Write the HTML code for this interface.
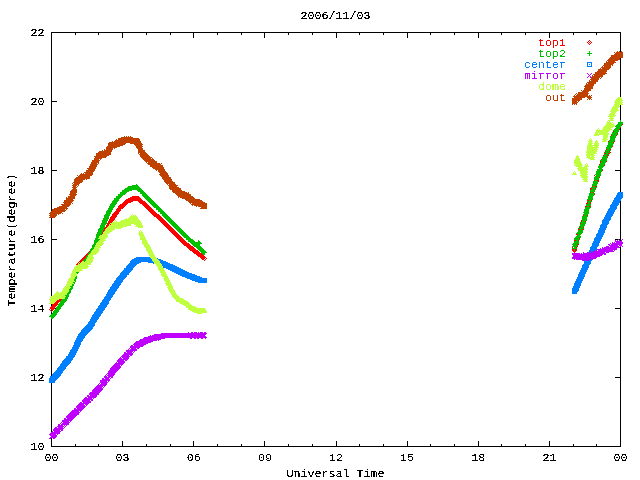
<!DOCTYPE html>
<html lang="en">
<head>
<meta charset="utf-8">
<title>2006/11/03 Temperature</title>
<style>
html,body{margin:0;padding:0;background:#fff;}
body{width:640px;height:480px;position:relative;overflow:hidden;font-family:"Liberation Mono",monospace;}
#plot{position:absolute;left:0;top:0;width:640px;height:480px;}
svg{position:absolute;left:0;top:0;shape-rendering:crispEdges;}
#labels{position:absolute;left:0;top:0;width:640px;height:480px;will-change:transform;filter:url(#crisp);}
.t{position:absolute;font-family:"Liberation Mono",monospace;font-size:11.67px;line-height:7px;height:7px;letter-spacing:0;white-space:pre;text-align:left;margin:0;padding:0;}
.t.yl{width:133px;height:7px;margin-left:0;transform-origin:0 0;transform:translate(0px,66.5px) rotate(-90deg);}
</style>
</head>
<body>
<div id="plot">
<svg width="640" height="480" viewBox="0 0 640 480">
<defs><filter id="crisp" x="0" y="0" width="100%" height="100%" color-interpolation-filters="sRGB"><feComponentTransfer><feFuncA type="discrete" tableValues="0 0 0 0 0 0 0 0 0 1 1 1 1 1 1 1 1 1 1 1"/></feComponentTransfer></filter></defs>
<path fill="#000" d="M51 32h570v1h-570zM51 446h570v1h-570zM51 32h1v415h-1zM620 32h1v415h-1zM51 32h1v6h-1zM51 441h1v6h-1zM75 32h1v3h-1zM75 444h1v3h-1zM98 32h1v3h-1zM98 444h1v3h-1zM122 32h1v6h-1zM122 441h1v6h-1zM146 32h1v3h-1zM146 444h1v3h-1zM170 32h1v3h-1zM170 444h1v3h-1zM193 32h1v6h-1zM193 441h1v6h-1zM217 32h1v3h-1zM217 444h1v3h-1zM241 32h1v3h-1zM241 444h1v3h-1zM264 32h1v6h-1zM264 441h1v6h-1zM288 32h1v3h-1zM288 444h1v3h-1zM312 32h1v3h-1zM312 444h1v3h-1zM336 32h1v6h-1zM336 441h1v6h-1zM359 32h1v3h-1zM359 444h1v3h-1zM383 32h1v3h-1zM383 444h1v3h-1zM407 32h1v6h-1zM407 441h1v6h-1zM430 32h1v3h-1zM430 444h1v3h-1zM454 32h1v3h-1zM454 444h1v3h-1zM478 32h1v6h-1zM478 441h1v6h-1zM501 32h1v3h-1zM501 444h1v3h-1zM525 32h1v3h-1zM525 444h1v3h-1zM549 32h1v6h-1zM549 441h1v6h-1zM573 32h1v3h-1zM573 444h1v3h-1zM596 32h1v3h-1zM596 444h1v3h-1zM620 32h1v6h-1zM620 441h1v6h-1zM51 446h6v1h-6zM615 446h6v1h-6zM51 377h6v1h-6zM615 377h6v1h-6zM51 308h6v1h-6zM615 308h6v1h-6zM51 239h6v1h-6zM615 239h6v1h-6zM51 170h6v1h-6zM615 170h6v1h-6zM51 101h6v1h-6zM615 101h6v1h-6zM51 32h6v1h-6zM615 32h6v1h-6z"/>
<path fill="#ff0000" d="M589 40h1v1h-1zM588 41h1v1h-1zM590 41h1v1h-1zM587 42h1v1h-1zM589 42h1v1h-1zM591 42h1v1h-1zM588 43h1v1h-1zM590 43h1v1h-1zM589 44h1v1h-1zM620 121h1v1h-1zM619 122h3v1h-3zM618 123h5v1h-5zM617 124h6v1h-6zM616 125h6v1h-6zM615 126h6v1h-6zM616 127h5v1h-5zM615 128h5v1h-5zM614 129h6v1h-6zM614 130h5v1h-5zM613 131h5v1h-5zM612 132h6v1h-6zM612 133h6v1h-6zM612 134h5v1h-5zM611 135h6v1h-6zM610 136h6v1h-6zM611 137h4v1h-4zM610 138h5v1h-5zM610 139h4v1h-4zM609 140h6v1h-6zM608 141h7v1h-7zM608 142h6v1h-6zM608 143h5v1h-5zM609 144h3v1h-3zM608 145h4v1h-4zM607 146h6v1h-6zM606 147h6v1h-6zM606 148h5v1h-5zM606 149h5v1h-5zM606 150h4v1h-4zM605 151h5v1h-5zM605 152h6v1h-6zM604 153h6v1h-6zM604 154h5v1h-5zM603 155h6v1h-6zM603 156h5v1h-5zM602 157h6v1h-6zM602 158h5v1h-5zM601 159h5v1h-5zM601 160h5v1h-5zM600 161h7v1h-7zM600 162h6v1h-6zM600 163h5v1h-5zM599 164h1v1h-1zM601 164h3v1h-3zM600 165h1v1h-1zM602 165h1v1h-1zM604 165h1v1h-1zM599 166h1v1h-1zM601 166h1v1h-1zM603 166h1v1h-1zM598 167h1v1h-1zM600 167h1v1h-1zM602 167h1v1h-1zM599 168h3v1h-3zM598 169h5v1h-5zM598 170h5v1h-5zM597 171h1v1h-1zM599 171h3v1h-3zM596 172h3v1h-3zM600 172h1v1h-1zM596 173h4v1h-4zM595 174h6v1h-6zM594 175h1v1h-1zM596 175h5v1h-5zM595 176h5v1h-5zM595 177h5v1h-5zM595 178h4v1h-4zM594 179h5v1h-5zM594 180h5v1h-5zM594 181h5v1h-5zM593 182h5v1h-5zM593 183h5v1h-5zM592 184h5v1h-5zM592 185h5v1h-5zM592 186h5v1h-5zM591 187h6v1h-6zM590 188h6v1h-6zM590 189h5v1h-5zM590 190h5v1h-5zM591 191h3v1h-3zM590 192h4v1h-4zM589 193h6v1h-6zM589 194h6v1h-6zM589 195h5v1h-5zM132 196h7v1h-7zM588 196h5v1h-5zM130 197h10v1h-10zM588 197h5v1h-5zM128 198h13v1h-13zM588 198h4v1h-4zM126 199h16v1h-16zM587 199h6v1h-6zM125 200h18v1h-18zM587 200h5v1h-5zM124 201h9v1h-9zM138 201h7v1h-7zM587 201h5v1h-5zM123 202h8v1h-8zM139 202h7v1h-7zM587 202h4v1h-4zM122 203h6v1h-6zM140 203h7v1h-7zM586 203h5v1h-5zM120 204h7v1h-7zM142 204h6v1h-6zM586 204h5v1h-5zM119 205h7v1h-7zM143 205h6v1h-6zM586 205h4v1h-4zM118 206h7v1h-7zM144 206h6v1h-6zM585 206h6v1h-6zM118 207h6v1h-6zM145 207h6v1h-6zM586 207h5v1h-5zM117 208h6v1h-6zM146 208h6v1h-6zM585 208h5v1h-5zM116 209h5v1h-5zM147 209h6v1h-6zM584 209h5v1h-5zM116 210h5v1h-5zM148 210h6v1h-6zM584 210h5v1h-5zM115 211h5v1h-5zM149 211h6v1h-6zM584 211h5v1h-5zM114 212h5v1h-5zM150 212h6v1h-6zM584 212h5v1h-5zM113 213h6v1h-6zM151 213h6v1h-6zM584 213h4v1h-4zM112 214h6v1h-6zM152 214h7v1h-7zM583 214h5v1h-5zM112 215h5v1h-5zM153 215h7v1h-7zM583 215h5v1h-5zM111 216h6v1h-6zM154 216h7v1h-7zM583 216h4v1h-4zM110 217h6v1h-6zM156 217h6v1h-6zM582 217h1v1h-1zM584 217h3v1h-3zM110 218h5v1h-5zM157 218h6v1h-6zM583 218h3v1h-3zM109 219h6v1h-6zM158 219h6v1h-6zM582 219h5v1h-5zM109 220h5v1h-5zM159 220h6v1h-6zM581 220h6v1h-6zM108 221h5v1h-5zM160 221h6v1h-6zM581 221h5v1h-5zM108 222h5v1h-5zM161 222h6v1h-6zM581 222h5v1h-5zM107 223h6v1h-6zM162 223h6v1h-6zM580 223h5v1h-5zM107 224h5v1h-5zM163 224h6v1h-6zM580 224h5v1h-5zM106 225h5v1h-5zM164 225h6v1h-6zM580 225h5v1h-5zM106 226h5v1h-5zM165 226h6v1h-6zM580 226h4v1h-4zM105 227h6v1h-6zM166 227h6v1h-6zM579 227h5v1h-5zM104 228h6v1h-6zM167 228h6v1h-6zM578 228h5v1h-5zM104 229h5v1h-5zM168 229h6v1h-6zM578 229h6v1h-6zM103 230h6v1h-6zM169 230h6v1h-6zM578 230h5v1h-5zM102 231h6v1h-6zM170 231h6v1h-6zM578 231h4v1h-4zM101 232h6v1h-6zM171 232h6v1h-6zM577 232h6v1h-6zM100 233h6v1h-6zM172 233h6v1h-6zM576 233h6v1h-6zM100 234h5v1h-5zM173 234h6v1h-6zM576 234h5v1h-5zM99 235h5v1h-5zM174 235h6v1h-6zM577 235h3v1h-3zM98 236h5v1h-5zM175 236h6v1h-6zM576 236h4v1h-4zM98 237h5v1h-5zM176 237h6v1h-6zM575 237h6v1h-6zM97 238h6v1h-6zM177 238h6v1h-6zM575 238h5v1h-5zM97 239h5v1h-5zM178 239h6v1h-6zM575 239h5v1h-5zM96 240h6v1h-6zM179 240h6v1h-6zM574 240h5v1h-5zM96 241h5v1h-5zM180 241h6v1h-6zM574 241h5v1h-5zM95 242h6v1h-6zM181 242h6v1h-6zM575 242h3v1h-3zM94 243h6v1h-6zM182 243h7v1h-7zM574 243h5v1h-5zM94 244h5v1h-5zM183 244h7v1h-7zM573 244h6v1h-6zM93 245h6v1h-6zM184 245h7v1h-7zM574 245h4v1h-4zM92 246h6v1h-6zM186 246h7v1h-7zM573 246h1v1h-1zM575 246h3v1h-3zM92 247h5v1h-5zM187 247h7v1h-7zM572 247h1v1h-1zM574 247h1v1h-1zM576 247h1v1h-1zM91 248h6v1h-6zM188 248h7v1h-7zM573 248h3v1h-3zM90 249h6v1h-6zM189 249h7v1h-7zM572 249h5v1h-5zM90 250h5v1h-5zM190 250h8v1h-8zM572 250h5v1h-5zM89 251h6v1h-6zM192 251h7v1h-7zM573 251h3v1h-3zM88 252h6v1h-6zM193 252h7v1h-7zM574 252h1v1h-1zM87 253h6v1h-6zM194 253h8v1h-8zM86 254h6v1h-6zM196 254h7v1h-7zM85 255h6v1h-6zM197 255h7v1h-7zM84 256h6v1h-6zM198 256h7v1h-7zM83 257h6v1h-6zM200 257h6v1h-6zM82 258h6v1h-6zM201 258h4v1h-4zM206 258h1v1h-1zM81 259h6v1h-6zM202 259h2v1h-2zM205 259h1v1h-1zM80 260h7v1h-7zM204 260h1v1h-1zM79 261h7v1h-7zM78 262h7v1h-7zM77 263h6v1h-6zM76 264h6v1h-6zM76 265h5v1h-5zM75 266h5v1h-5zM74 267h6v1h-6zM74 268h5v1h-5zM74 269h5v1h-5zM73 270h6v1h-6zM73 271h5v1h-5zM72 272h5v1h-5zM72 273h5v1h-5zM72 274h5v1h-5zM71 275h5v1h-5zM71 276h5v1h-5zM70 277h5v1h-5zM70 278h5v1h-5zM70 279h5v1h-5zM69 280h6v1h-6zM69 281h5v1h-5zM68 282h6v1h-6zM68 283h5v1h-5zM68 284h5v1h-5zM68 285h5v1h-5zM67 286h5v1h-5zM66 287h5v1h-5zM65 288h6v1h-6zM64 289h6v1h-6zM64 290h5v1h-5zM63 291h6v1h-6zM62 292h6v1h-6zM61 293h6v1h-6zM60 294h6v1h-6zM60 295h5v1h-5zM59 296h5v1h-5zM58 297h5v1h-5zM57 298h6v1h-6zM56 299h6v1h-6zM55 300h6v1h-6zM54 301h6v1h-6zM54 302h5v1h-5zM53 303h5v1h-5zM52 304h6v1h-6zM52 305h5v1h-5zM51 306h5v1h-5zM50 307h5v1h-5zM50 308h5v1h-5zM49 309h1v1h-1zM51 309h3v1h-3zM50 310h1v1h-1zM52 310h1v1h-1zM51 311h1v1h-1z"/>
<path fill="#00c000" d="M589 51h1v1h-1zM589 52h1v1h-1zM587 53h5v1h-5zM589 54h1v1h-1zM589 55h1v1h-1zM620 120h1v1h-1zM620 121h1v1h-1zM618 122h5v1h-5zM618 123h5v1h-5zM617 124h5v1h-5zM616 125h6v1h-6zM615 126h6v1h-6zM616 127h4v1h-4zM615 128h5v1h-5zM614 129h5v1h-5zM613 130h6v1h-6zM614 131h5v1h-5zM612 132h6v1h-6zM612 133h5v1h-5zM611 134h7v1h-7zM612 135h4v1h-4zM610 136h6v1h-6zM610 137h6v1h-6zM610 138h5v1h-5zM610 139h5v1h-5zM609 140h6v1h-6zM609 141h5v1h-5zM608 142h5v1h-5zM608 143h6v1h-6zM608 144h5v1h-5zM607 145h6v1h-6zM607 146h5v1h-5zM606 147h6v1h-6zM606 148h5v1h-5zM607 149h3v1h-3zM605 150h6v1h-6zM606 151h3v1h-3zM604 152h6v1h-6zM606 153h2v1h-2zM604 154h5v1h-5zM604 155h3v1h-3zM603 156h5v1h-5zM602 157h5v1h-5zM602 158h5v1h-5zM602 159h5v1h-5zM600 160h7v1h-7zM601 161h5v1h-5zM601 162h5v1h-5zM600 163h5v1h-5zM600 164h5v1h-5zM599 165h5v1h-5zM598 166h6v1h-6zM598 167h5v1h-5zM599 168h3v1h-3zM597 169h6v1h-6zM597 170h5v1h-5zM596 171h6v1h-6zM596 172h5v1h-5zM596 173h5v1h-5zM595 174h6v1h-6zM596 175h5v1h-5zM595 176h5v1h-5zM594 177h5v1h-5zM594 178h5v1h-5zM594 179h5v1h-5zM595 180h2v1h-2zM593 181h5v1h-5zM593 182h5v1h-5zM593 183h5v1h-5zM136 184h1v1h-1zM592 184h5v1h-5zM132 185h6v1h-6zM592 185h5v1h-5zM128 186h11v1h-11zM593 186h2v1h-2zM127 187h13v1h-13zM591 187h6v1h-6zM125 188h16v1h-16zM592 188h3v1h-3zM124 189h18v1h-18zM591 189h5v1h-5zM122 190h10v1h-10zM137 190h6v1h-6zM590 190h5v1h-5zM122 191h7v1h-7zM138 191h6v1h-6zM590 191h5v1h-5zM120 192h7v1h-7zM140 192h5v1h-5zM591 192h2v1h-2zM120 193h6v1h-6zM140 193h6v1h-6zM589 193h6v1h-6zM118 194h7v1h-7zM142 194h5v1h-5zM589 194h5v1h-5zM118 195h5v1h-5zM142 195h6v1h-6zM589 195h5v1h-5zM116 196h6v1h-6zM143 196h6v1h-6zM588 196h5v1h-5zM116 197h5v1h-5zM144 197h6v1h-6zM588 197h5v1h-5zM114 198h6v1h-6zM145 198h6v1h-6zM588 198h5v1h-5zM114 199h5v1h-5zM146 199h6v1h-6zM587 199h6v1h-6zM113 200h6v1h-6zM147 200h6v1h-6zM589 200h2v1h-2zM112 201h6v1h-6zM148 201h6v1h-6zM587 201h5v1h-5zM112 202h5v1h-5zM149 202h6v1h-6zM588 202h2v1h-2zM111 203h6v1h-6zM150 203h6v1h-6zM588 203h2v1h-2zM110 204h6v1h-6zM151 204h6v1h-6zM586 204h5v1h-5zM110 205h5v1h-5zM152 205h6v1h-6zM586 205h5v1h-5zM109 206h6v1h-6zM153 206h6v1h-6zM587 206h2v1h-2zM109 207h5v1h-5zM154 207h6v1h-6zM585 207h6v1h-6zM108 208h5v1h-5zM156 208h5v1h-5zM585 208h5v1h-5zM108 209h5v1h-5zM156 209h6v1h-6zM584 209h5v1h-5zM107 210h5v1h-5zM158 210h5v1h-5zM584 210h5v1h-5zM106 211h6v1h-6zM158 211h6v1h-6zM584 211h5v1h-5zM106 212h5v1h-5zM160 212h5v1h-5zM583 212h6v1h-6zM106 213h5v1h-5zM160 213h6v1h-6zM584 213h5v1h-5zM105 214h5v1h-5zM162 214h5v1h-5zM583 214h5v1h-5zM104 215h6v1h-6zM162 215h6v1h-6zM584 215h3v1h-3zM104 216h5v1h-5zM163 216h6v1h-6zM582 216h6v1h-6zM104 217h5v1h-5zM164 217h6v1h-6zM582 217h5v1h-5zM103 218h6v1h-6zM165 218h6v1h-6zM582 218h5v1h-5zM103 219h5v1h-5zM166 219h6v1h-6zM582 219h5v1h-5zM102 220h6v1h-6zM167 220h6v1h-6zM582 220h5v1h-5zM102 221h5v1h-5zM168 221h6v1h-6zM582 221h3v1h-3zM102 222h5v1h-5zM169 222h6v1h-6zM580 222h6v1h-6zM101 223h6v1h-6zM170 223h6v1h-6zM581 223h5v1h-5zM101 224h5v1h-5zM171 224h6v1h-6zM580 224h5v1h-5zM100 225h5v1h-5zM172 225h6v1h-6zM580 225h5v1h-5zM100 226h5v1h-5zM173 226h6v1h-6zM579 226h5v1h-5zM100 227h5v1h-5zM174 227h6v1h-6zM580 227h3v1h-3zM99 228h5v1h-5zM175 228h6v1h-6zM578 228h6v1h-6zM98 229h6v1h-6zM176 229h6v1h-6zM580 229h2v1h-2zM98 230h5v1h-5zM177 230h6v1h-6zM578 230h5v1h-5zM98 231h5v1h-5zM178 231h6v1h-6zM578 231h5v1h-5zM97 232h5v1h-5zM179 232h6v1h-6zM577 232h6v1h-6zM97 233h5v1h-5zM180 233h6v1h-6zM576 233h6v1h-6zM96 234h5v1h-5zM181 234h6v1h-6zM578 234h3v1h-3zM96 235h5v1h-5zM182 235h6v1h-6zM577 235h3v1h-3zM96 236h5v1h-5zM183 236h6v1h-6zM576 236h5v1h-5zM96 237h5v1h-5zM184 237h6v1h-6zM575 237h6v1h-6zM95 238h5v1h-5zM186 238h5v1h-5zM574 238h5v1h-5zM95 239h5v1h-5zM186 239h7v1h-7zM574 239h6v1h-6zM94 240h6v1h-6zM188 240h6v1h-6zM198 240h1v1h-1zM576 240h2v1h-2zM94 241h5v1h-5zM188 241h7v1h-7zM198 241h2v1h-2zM574 241h5v1h-5zM94 242h5v1h-5zM190 242h11v1h-11zM574 242h5v1h-5zM94 243h5v1h-5zM191 243h11v1h-11zM573 243h6v1h-6zM93 244h5v1h-5zM192 244h8v1h-8zM572 244h5v1h-5zM92 245h5v1h-5zM193 245h7v1h-7zM573 245h5v1h-5zM92 246h5v1h-5zM194 246h7v1h-7zM572 246h5v1h-5zM92 247h5v1h-5zM196 247h6v1h-6zM574 247h2v1h-2zM91 248h5v1h-5zM197 248h6v1h-6zM572 248h5v1h-5zM90 249h5v1h-5zM198 249h6v1h-6zM574 249h1v1h-1zM90 250h5v1h-5zM199 250h6v1h-6zM574 250h1v1h-1zM90 251h5v1h-5zM200 251h6v1h-6zM89 252h5v1h-5zM201 252h6v1h-6zM88 253h5v1h-5zM202 253h3v1h-3zM88 254h5v1h-5zM203 254h2v1h-2zM87 255h6v1h-6zM86 256h6v1h-6zM86 257h5v1h-5zM85 258h6v1h-6zM84 259h5v1h-5zM83 260h6v1h-6zM82 261h6v1h-6zM81 262h6v1h-6zM80 263h6v1h-6zM80 264h5v1h-5zM78 265h6v1h-6zM78 266h5v1h-5zM77 267h5v1h-5zM76 268h5v1h-5zM75 269h6v1h-6zM74 270h6v1h-6zM74 271h5v1h-5zM73 272h6v1h-6zM73 273h5v1h-5zM72 274h5v1h-5zM72 275h5v1h-5zM72 276h5v1h-5zM72 277h5v1h-5zM72 278h5v1h-5zM71 279h5v1h-5zM71 280h5v1h-5zM70 281h6v1h-6zM70 282h5v1h-5zM70 283h5v1h-5zM69 284h5v1h-5zM68 285h6v1h-6zM68 286h5v1h-5zM68 287h5v1h-5zM67 288h6v1h-6zM67 289h5v1h-5zM66 290h5v1h-5zM66 291h5v1h-5zM65 292h6v1h-6zM65 293h5v1h-5zM64 294h5v1h-5zM64 295h5v1h-5zM64 296h5v1h-5zM63 297h5v1h-5zM62 298h6v1h-6zM62 299h5v1h-5zM61 300h6v1h-6zM60 301h6v1h-6zM60 302h5v1h-5zM59 303h5v1h-5zM58 304h6v1h-6zM58 305h5v1h-5zM57 306h5v1h-5zM56 307h5v1h-5zM56 308h5v1h-5zM55 309h5v1h-5zM54 310h5v1h-5zM53 311h6v1h-6zM53 312h5v1h-5zM52 313h5v1h-5zM51 314h6v1h-6zM50 315h6v1h-6zM49 316h6v1h-6zM51 317h3v1h-3zM51 318h2v1h-2z"/>
<path fill="#0080ff" d="M587 62h5v1h-5zM587 63h1v1h-1zM591 63h1v1h-1zM587 64h1v1h-1zM589 64h1v1h-1zM591 64h1v1h-1zM587 65h1v1h-1zM591 65h1v1h-1zM587 66h5v1h-5zM618 192h5v1h-5zM617 193h6v1h-6zM617 194h6v1h-6zM616 195h7v1h-7zM616 196h7v1h-7zM615 197h8v1h-8zM614 198h8v1h-8zM614 199h7v1h-7zM613 200h8v1h-8zM613 201h7v1h-7zM612 202h8v1h-8zM612 203h7v1h-7zM611 204h8v1h-8zM610 205h8v1h-8zM610 206h7v1h-7zM610 207h7v1h-7zM609 208h8v1h-8zM608 209h8v1h-8zM608 210h7v1h-7zM607 211h8v1h-8zM607 212h7v1h-7zM606 213h8v1h-8zM606 214h7v1h-7zM605 215h8v1h-8zM605 216h7v1h-7zM604 217h7v1h-7zM604 218h7v1h-7zM603 219h8v1h-8zM602 220h8v1h-8zM602 221h7v1h-7zM602 222h7v1h-7zM602 223h7v1h-7zM601 224h7v1h-7zM600 225h7v1h-7zM600 226h7v1h-7zM600 227h7v1h-7zM599 228h7v1h-7zM599 229h7v1h-7zM598 230h7v1h-7zM598 231h7v1h-7zM598 232h7v1h-7zM597 233h7v1h-7zM596 234h8v1h-8zM596 235h7v1h-7zM596 236h7v1h-7zM595 237h7v1h-7zM594 238h8v1h-8zM594 239h7v1h-7zM594 240h7v1h-7zM593 241h7v1h-7zM593 242h7v1h-7zM592 243h7v1h-7zM592 244h7v1h-7zM592 245h7v1h-7zM591 246h7v1h-7zM590 247h7v1h-7zM590 248h7v1h-7zM590 249h7v1h-7zM589 250h7v1h-7zM589 251h7v1h-7zM588 252h7v1h-7zM588 253h7v1h-7zM588 254h7v1h-7zM587 255h7v1h-7zM586 256h7v1h-7zM136 257h17v1h-17zM586 257h7v1h-7zM134 258h24v1h-24zM586 258h7v1h-7zM132 259h29v1h-29zM585 259h7v1h-7zM131 260h32v1h-32zM585 260h7v1h-7zM130 261h36v1h-36zM584 261h7v1h-7zM130 262h11v1h-11zM148 262h20v1h-20zM584 262h7v1h-7zM129 263h10v1h-10zM153 263h17v1h-17zM584 263h7v1h-7zM128 264h9v1h-9zM156 264h17v1h-17zM583 264h7v1h-7zM127 265h9v1h-9zM159 265h16v1h-16zM582 265h7v1h-7zM126 266h9v1h-9zM161 266h16v1h-16zM582 266h7v1h-7zM126 267h8v1h-8zM163 267h16v1h-16zM582 267h7v1h-7zM124 268h9v1h-9zM166 268h15v1h-15zM581 268h7v1h-7zM124 269h9v1h-9zM168 269h15v1h-15zM581 269h7v1h-7zM123 270h9v1h-9zM170 270h15v1h-15zM580 270h7v1h-7zM122 271h9v1h-9zM172 271h15v1h-15zM580 271h7v1h-7zM121 272h9v1h-9zM174 272h15v1h-15zM579 272h7v1h-7zM120 273h9v1h-9zM176 273h16v1h-16zM579 273h7v1h-7zM120 274h9v1h-9zM178 274h17v1h-17zM578 274h7v1h-7zM119 275h8v1h-8zM180 275h17v1h-17zM578 275h7v1h-7zM118 276h9v1h-9zM182 276h18v1h-18zM578 276h7v1h-7zM117 277h9v1h-9zM185 277h17v1h-17zM577 277h7v1h-7zM116 278h9v1h-9zM187 278h20v1h-20zM577 278h7v1h-7zM116 279h8v1h-8zM190 279h17v1h-17zM576 279h7v1h-7zM115 280h8v1h-8zM192 280h15v1h-15zM576 280h7v1h-7zM114 281h9v1h-9zM195 281h12v1h-12zM575 281h7v1h-7zM114 282h8v1h-8zM198 282h9v1h-9zM575 282h7v1h-7zM113 283h8v1h-8zM574 283h7v1h-7zM112 284h9v1h-9zM574 284h7v1h-7zM112 285h8v1h-8zM574 285h7v1h-7zM111 286h8v1h-8zM573 286h7v1h-7zM110 287h9v1h-9zM573 287h7v1h-7zM110 288h8v1h-8zM572 288h7v1h-7zM109 289h8v1h-8zM572 289h7v1h-7zM108 290h9v1h-9zM572 290h7v1h-7zM108 291h8v1h-8zM572 291h6v1h-6zM107 292h8v1h-8zM572 292h5v1h-5zM107 293h8v1h-8zM572 293h5v1h-5zM106 294h8v1h-8zM106 295h7v1h-7zM105 296h8v1h-8zM104 297h8v1h-8zM104 298h7v1h-7zM103 299h8v1h-8zM102 300h8v1h-8zM102 301h7v1h-7zM101 302h8v1h-8zM100 303h9v1h-9zM100 304h8v1h-8zM99 305h8v1h-8zM98 306h9v1h-9zM98 307h8v1h-8zM97 308h8v1h-8zM96 309h9v1h-9zM96 310h8v1h-8zM95 311h8v1h-8zM94 312h9v1h-9zM94 313h8v1h-8zM93 314h8v1h-8zM92 315h9v1h-9zM92 316h8v1h-8zM91 317h8v1h-8zM91 318h8v1h-8zM90 319h8v1h-8zM90 320h7v1h-7zM89 321h8v1h-8zM88 322h8v1h-8zM88 323h7v1h-7zM87 324h8v1h-8zM86 325h9v1h-9zM85 326h9v1h-9zM84 327h9v1h-9zM83 328h10v1h-10zM82 329h10v1h-10zM81 330h10v1h-10zM81 331h9v1h-9zM80 332h9v1h-9zM79 333h9v1h-9zM78 334h9v1h-9zM78 335h8v1h-8zM77 336h8v1h-8zM77 337h8v1h-8zM76 338h8v1h-8zM76 339h7v1h-7zM75 340h8v1h-8zM75 341h7v1h-7zM74 342h7v1h-7zM74 343h7v1h-7zM74 344h7v1h-7zM73 345h7v1h-7zM73 346h7v1h-7zM72 347h7v1h-7zM72 348h7v1h-7zM71 349h7v1h-7zM70 350h8v1h-8zM70 351h7v1h-7zM69 352h8v1h-8zM69 353h7v1h-7zM68 354h8v1h-8zM68 355h7v1h-7zM66 356h9v1h-9zM66 357h8v1h-8zM65 358h8v1h-8zM64 359h9v1h-9zM63 360h9v1h-9zM62 361h9v1h-9zM62 362h9v1h-9zM61 363h9v1h-9zM60 364h9v1h-9zM60 365h8v1h-8zM59 366h8v1h-8zM58 367h8v1h-8zM57 368h9v1h-9zM57 369h8v1h-8zM56 370h8v1h-8zM55 371h8v1h-8zM54 372h9v1h-9zM53 373h9v1h-9zM52 374h9v1h-9zM52 375h9v1h-9zM50 376h10v1h-10zM50 377h9v1h-9zM49 378h9v1h-9zM49 379h8v1h-8zM49 380h7v1h-7zM49 381h6v1h-6zM49 382h6v1h-6z"/>
<path fill="#c000ff" d="M587 73h1v1h-1zM591 73h1v1h-1zM588 74h1v1h-1zM590 74h1v1h-1zM589 75h1v1h-1zM588 76h1v1h-1zM590 76h1v1h-1zM587 77h1v1h-1zM591 77h1v1h-1zM618 239h1v1h-1zM622 239h1v1h-1zM615 240h1v1h-1zM617 240h1v1h-1zM619 240h1v1h-1zM621 240h1v1h-1zM615 241h7v1h-7zM612 242h1v1h-1zM614 242h1v1h-1zM616 242h7v1h-7zM610 243h1v1h-1zM612 243h11v1h-11zM608 244h2v1h-2zM611 244h11v1h-11zM609 245h9v1h-9zM619 245h3v1h-3zM606 246h3v1h-3zM610 246h9v1h-9zM620 246h1v1h-1zM622 246h1v1h-1zM602 247h1v1h-1zM604 247h16v1h-16zM600 248h1v1h-1zM602 248h15v1h-15zM597 249h20v1h-20zM594 250h1v1h-1zM596 250h1v1h-1zM598 250h15v1h-15zM614 250h1v1h-1zM590 251h1v1h-1zM593 251h21v1h-21zM583 252h1v1h-1zM587 252h1v1h-1zM589 252h1v1h-1zM591 252h14v1h-14zM606 252h3v1h-3zM572 253h8v1h-8zM581 253h1v1h-1zM583 253h23v1h-23zM572 254h31v1h-31zM604 254h2v1h-2zM573 255h29v1h-29zM573 256h27v1h-27zM572 257h25v1h-25zM572 258h24v1h-24zM574 259h1v1h-1zM576 259h15v1h-15zM592 259h1v1h-1zM582 260h3v1h-3zM586 260h3v1h-3zM188 332h1v1h-1zM191 332h2v1h-2zM194 332h3v1h-3zM198 332h1v1h-1zM200 332h3v1h-3zM204 332h2v1h-2zM161 333h46v1h-46zM154 334h52v1h-52zM150 335h1v1h-1zM152 335h53v1h-53zM148 336h58v1h-58zM144 337h63v1h-63zM143 338h22v1h-22zM190 338h2v1h-2zM194 338h2v1h-2zM197 338h2v1h-2zM201 338h2v1h-2zM205 338h1v1h-1zM140 339h21v1h-21zM139 340h18v1h-18zM158 340h1v1h-1zM136 341h17v1h-17zM135 342h16v1h-16zM134 343h14v1h-14zM133 344h13v1h-13zM131 345h2v1h-2zM134 345h10v1h-10zM130 346h13v1h-13zM130 347h10v1h-10zM129 348h1v1h-1zM131 348h5v1h-5zM137 348h2v1h-2zM128 349h1v1h-1zM130 349h7v1h-7zM126 350h11v1h-11zM126 351h7v1h-7zM134 351h1v1h-1zM124 352h2v1h-2zM127 352h5v1h-5zM133 352h1v1h-1zM124 353h9v1h-9zM123 354h10v1h-10zM122 355h7v1h-7zM130 355h2v1h-2zM121 356h9v1h-9zM120 357h1v1h-1zM122 357h7v1h-7zM119 358h3v1h-3zM123 358h6v1h-6zM118 359h10v1h-10zM117 360h7v1h-7zM125 360h2v1h-2zM117 361h8v1h-8zM116 362h1v1h-1zM118 362h7v1h-7zM115 363h9v1h-9zM114 364h9v1h-9zM113 365h7v1h-7zM121 365h1v1h-1zM112 366h9v1h-9zM111 367h10v1h-10zM110 368h10v1h-10zM110 369h9v1h-9zM109 370h9v1h-9zM108 371h9v1h-9zM108 372h8v1h-8zM107 373h8v1h-8zM106 374h1v1h-1zM108 374h7v1h-7zM105 375h1v1h-1zM107 375h7v1h-7zM104 376h3v1h-3zM108 376h5v1h-5zM104 377h6v1h-6zM111 377h2v1h-2zM102 378h2v1h-2zM105 378h4v1h-4zM110 378h1v1h-1zM102 379h8v1h-8zM100 380h10v1h-10zM100 381h7v1h-7zM108 381h1v1h-1zM100 382h8v1h-8zM99 383h1v1h-1zM101 383h6v1h-6zM98 384h1v1h-1zM100 384h7v1h-7zM97 385h9v1h-9zM96 386h7v1h-7zM104 386h1v1h-1zM95 387h7v1h-7zM103 387h1v1h-1zM94 388h9v1h-9zM93 389h10v1h-10zM92 390h10v1h-10zM92 391h9v1h-9zM90 392h10v1h-10zM89 393h10v1h-10zM89 394h10v1h-10zM87 395h2v1h-2zM90 395h7v1h-7zM87 396h10v1h-10zM85 397h2v1h-2zM88 397h8v1h-8zM84 398h8v1h-8zM93 398h1v1h-1zM83 399h10v1h-10zM82 400h8v1h-8zM91 400h2v1h-2zM82 401h9v1h-9zM80 402h2v1h-2zM83 402h8v1h-8zM79 403h10v1h-10zM78 404h6v1h-6zM85 404h3v1h-3zM77 405h8v1h-8zM86 405h1v1h-1zM76 406h10v1h-10zM76 407h9v1h-9zM74 408h2v1h-2zM77 408h7v1h-7zM74 409h9v1h-9zM72 410h10v1h-10zM71 411h8v1h-8zM80 411h1v1h-1zM70 412h10v1h-10zM69 413h10v1h-10zM68 414h11v1h-11zM67 415h10v1h-10zM66 416h10v1h-10zM66 417h9v1h-9zM64 418h2v1h-2zM67 418h7v1h-7zM64 419h9v1h-9zM62 420h10v1h-10zM62 421h7v1h-7zM70 421h1v1h-1zM61 422h1v1h-1zM63 422h7v1h-7zM60 423h1v1h-1zM62 423h7v1h-7zM58 424h2v1h-2zM61 424h8v1h-8zM58 425h5v1h-5zM64 425h1v1h-1zM66 425h1v1h-1zM57 426h7v1h-7zM65 426h1v1h-1zM55 427h2v1h-2zM58 427h5v1h-5zM64 427h1v1h-1zM54 428h10v1h-10zM53 429h10v1h-10zM53 430h7v1h-7zM61 430h2v1h-2zM52 431h1v1h-1zM54 431h7v1h-7zM51 432h9v1h-9zM50 433h10v1h-10zM49 434h7v1h-7zM57 434h1v1h-1zM50 435h7v1h-7zM51 436h6v1h-6zM50 437h6v1h-6zM49 438h2v1h-2zM53 438h2v1h-2z"/>
<path fill="#c0ff40" d="M589 84h1v1h-1zM588 85h1v1h-1zM590 85h1v1h-1zM588 86h3v1h-3zM587 87h5v1h-5zM618 97h3v1h-3zM617 98h5v1h-5zM616 99h6v1h-6zM615 100h8v1h-8zM615 101h7v1h-7zM614 102h9v1h-9zM615 103h7v1h-7zM614 104h9v1h-9zM614 105h5v1h-5zM613 106h7v1h-7zM612 107h7v1h-7zM612 108h6v1h-6zM611 109h7v1h-7zM611 110h8v1h-8zM610 111h7v1h-7zM611 112h5v1h-5zM610 113h5v1h-5zM609 114h6v1h-6zM609 115h7v1h-7zM608 116h7v1h-7zM610 117h3v1h-3zM609 118h5v1h-5zM610 119h3v1h-3zM608 120h6v1h-6zM607 121h1v1h-1zM609 121h1v1h-1zM607 122h4v1h-4zM612 122h1v1h-1zM606 123h6v1h-6zM613 123h1v1h-1zM606 124h8v1h-8zM605 125h10v1h-10zM604 126h10v1h-10zM603 127h10v1h-10zM598 128h1v1h-1zM603 128h8v1h-8zM597 129h1v1h-1zM599 129h1v1h-1zM602 129h10v1h-10zM596 130h14v1h-14zM596 131h13v1h-13zM595 132h13v1h-13zM595 133h3v1h-3zM599 133h10v1h-10zM594 134h15v1h-15zM594 135h5v1h-5zM603 135h5v1h-5zM603 136h5v1h-5zM603 137h5v1h-5zM590 138h1v1h-1zM603 138h4v1h-4zM589 139h1v1h-1zM591 139h1v1h-1zM602 139h6v1h-6zM589 140h3v1h-3zM596 140h1v1h-1zM603 140h3v1h-3zM588 141h5v1h-5zM595 141h3v1h-3zM602 141h5v1h-5zM589 142h3v1h-3zM595 142h3v1h-3zM588 143h5v1h-5zM594 143h5v1h-5zM588 144h4v1h-4zM594 144h5v1h-5zM587 145h12v1h-12zM587 146h6v1h-6zM594 146h4v1h-4zM587 147h12v1h-12zM587 148h10v1h-10zM587 149h11v1h-11zM587 150h10v1h-10zM586 151h11v1h-11zM586 152h10v1h-10zM587 153h10v1h-10zM586 154h8v1h-8zM577 155h1v1h-1zM586 155h9v1h-9zM576 156h3v1h-3zM587 156h3v1h-3zM591 156h3v1h-3zM576 157h3v1h-3zM586 157h9v1h-9zM575 158h5v1h-5zM588 158h6v1h-6zM575 159h5v1h-5zM590 159h5v1h-5zM574 160h6v1h-6zM574 161h7v1h-7zM574 162h7v1h-7zM574 163h8v1h-8zM586 163h1v1h-1zM575 164h7v1h-7zM585 164h1v1h-1zM587 164h1v1h-1zM574 165h9v1h-9zM585 165h3v1h-3zM576 166h6v1h-6zM584 166h5v1h-5zM578 167h9v1h-9zM577 168h11v1h-11zM578 169h10v1h-10zM578 170h9v1h-9zM574 171h1v1h-1zM580 171h8v1h-8zM573 172h1v1h-1zM575 172h1v1h-1zM580 172h8v1h-8zM573 173h3v1h-3zM580 173h7v1h-7zM572 174h5v1h-5zM581 174h7v1h-7zM580 175h7v1h-7zM581 176h7v1h-7zM581 177h7v1h-7zM583 178h4v1h-4zM582 179h6v1h-6zM584 180h3v1h-3zM583 181h5v1h-5zM132 214h1v1h-1zM131 215h1v1h-1zM133 215h3v1h-3zM130 216h7v1h-7zM129 217h9v1h-9zM126 218h1v1h-1zM128 218h10v1h-10zM124 219h15v1h-15zM115 220h1v1h-1zM121 220h19v1h-19zM114 221h1v1h-1zM116 221h1v1h-1zM120 221h21v1h-21zM112 222h29v1h-29zM110 223h32v1h-32zM109 224h1v1h-1zM111 224h20v1h-20zM134 224h8v1h-8zM109 225h22v1h-22zM136 225h7v1h-7zM108 226h19v1h-19zM135 226h8v1h-8zM107 227h16v1h-16zM138 227h5v1h-5zM106 228h9v1h-9zM116 228h5v1h-5zM105 229h10v1h-10zM105 230h8v1h-8zM140 230h1v1h-1zM104 231h8v1h-8zM139 231h1v1h-1zM141 231h1v1h-1zM103 232h7v1h-7zM139 232h4v1h-4zM103 233h6v1h-6zM138 233h5v1h-5zM102 234h5v1h-5zM139 234h5v1h-5zM100 235h8v1h-8zM139 235h5v1h-5zM99 236h9v1h-9zM140 236h5v1h-5zM99 237h8v1h-8zM140 237h5v1h-5zM98 238h8v1h-8zM140 238h6v1h-6zM100 239h5v1h-5zM140 239h6v1h-6zM99 240h7v1h-7zM142 240h5v1h-5zM98 241h6v1h-6zM142 241h5v1h-5zM97 242h6v1h-6zM142 242h6v1h-6zM96 243h8v1h-8zM142 243h6v1h-6zM96 244h7v1h-7zM143 244h6v1h-6zM95 245h7v1h-7zM144 245h6v1h-6zM95 246h5v1h-5zM144 246h6v1h-6zM94 247h7v1h-7zM145 247h6v1h-6zM94 248h5v1h-5zM146 248h5v1h-5zM93 249h7v1h-7zM146 249h6v1h-6zM92 250h7v1h-7zM146 250h6v1h-6zM91 251h8v1h-8zM147 251h6v1h-6zM91 252h7v1h-7zM148 252h5v1h-5zM90 253h7v1h-7zM148 253h6v1h-6zM89 254h7v1h-7zM149 254h5v1h-5zM88 255h5v1h-5zM149 255h6v1h-6zM88 256h5v1h-5zM150 256h5v1h-5zM87 257h7v1h-7zM150 257h6v1h-6zM87 258h7v1h-7zM151 258h6v1h-6zM86 259h7v1h-7zM152 259h6v1h-6zM86 260h7v1h-7zM152 260h7v1h-7zM82 261h2v1h-2zM85 261h8v1h-8zM153 261h7v1h-7zM79 262h1v1h-1zM81 262h11v1h-11zM154 262h6v1h-6zM78 263h1v1h-1zM80 263h11v1h-11zM154 263h7v1h-7zM78 264h13v1h-13zM156 264h6v1h-6zM76 265h12v1h-12zM156 265h6v1h-6zM75 266h14v1h-14zM157 266h6v1h-6zM74 267h14v1h-14zM158 267h5v1h-5zM74 268h13v1h-13zM158 268h6v1h-6zM73 269h9v1h-9zM158 269h6v1h-6zM73 270h10v1h-10zM159 270h6v1h-6zM72 271h8v1h-8zM160 271h5v1h-5zM72 272h4v1h-4zM160 272h6v1h-6zM71 273h6v1h-6zM161 273h5v1h-5zM71 274h6v1h-6zM161 274h6v1h-6zM70 275h7v1h-7zM161 275h6v1h-6zM71 276h5v1h-5zM162 276h6v1h-6zM70 277h5v1h-5zM164 277h4v1h-4zM69 278h6v1h-6zM163 278h6v1h-6zM68 279h6v1h-6zM164 279h5v1h-5zM68 280h6v1h-6zM164 280h6v1h-6zM67 281h8v1h-8zM165 281h5v1h-5zM67 282h6v1h-6zM166 282h5v1h-5zM67 283h7v1h-7zM165 283h6v1h-6zM66 284h6v1h-6zM166 284h6v1h-6zM66 285h6v1h-6zM166 285h6v1h-6zM65 286h5v1h-5zM168 286h5v1h-5zM64 287h7v1h-7zM167 287h6v1h-6zM63 288h7v1h-7zM168 288h5v1h-5zM63 289h6v1h-6zM168 289h6v1h-6zM62 290h7v1h-7zM169 290h6v1h-6zM57 291h1v1h-1zM62 291h7v1h-7zM169 291h6v1h-6zM56 292h3v1h-3zM60 292h8v1h-8zM170 292h6v1h-6zM55 293h12v1h-12zM171 293h5v1h-5zM54 294h13v1h-13zM171 294h6v1h-6zM53 295h12v1h-12zM172 295h6v1h-6zM51 296h15v1h-15zM172 296h7v1h-7zM50 297h15v1h-15zM173 297h7v1h-7zM50 298h15v1h-15zM174 298h9v1h-9zM49 299h10v1h-10zM175 299h9v1h-9zM50 300h7v1h-7zM176 300h10v1h-10zM50 301h6v1h-6zM176 301h12v1h-12zM50 302h5v1h-5zM179 302h10v1h-10zM49 303h5v1h-5zM180 303h10v1h-10zM182 304h9v1h-9zM184 305h8v1h-8zM186 306h9v1h-9zM186 307h11v1h-11zM188 308h17v1h-17zM188 309h18v1h-18zM190 310h16v1h-16zM192 311h15v1h-15zM194 312h13v1h-13zM197 313h5v1h-5z"/>
<path fill="#c04000" d="M617 51h1v1h-1zM619 51h1v1h-1zM621 51h1v1h-1zM614 52h1v1h-1zM616 52h7v1h-7zM615 53h8v1h-8zM614 54h9v1h-9zM611 55h12v1h-12zM611 56h12v1h-12zM610 57h13v1h-13zM609 58h11v1h-11zM608 59h12v1h-12zM607 60h11v1h-11zM606 61h1v1h-1zM608 61h7v1h-7zM606 62h10v1h-10zM604 63h10v1h-10zM604 64h9v1h-9zM603 65h8v1h-8zM612 65h1v1h-1zM602 66h1v1h-1zM604 66h7v1h-7zM601 67h10v1h-10zM600 68h1v1h-1zM602 68h8v1h-8zM598 69h11v1h-11zM598 70h9v1h-9zM597 71h10v1h-10zM595 72h11v1h-11zM595 73h12v1h-12zM593 74h12v1h-12zM592 75h1v1h-1zM594 75h9v1h-9zM592 76h11v1h-11zM590 77h1v1h-1zM592 77h8v1h-8zM601 77h1v1h-1zM591 78h8v1h-8zM600 78h1v1h-1zM590 79h9v1h-9zM589 80h1v1h-1zM591 80h7v1h-7zM589 81h9v1h-9zM587 82h9v1h-9zM586 83h1v1h-1zM588 83h8v1h-8zM586 84h8v1h-8zM585 85h9v1h-9zM584 86h9v1h-9zM585 87h8v1h-8zM584 88h9v1h-9zM584 89h7v1h-7zM581 90h1v1h-1zM583 90h8v1h-8zM582 91h7v1h-7zM578 92h10v1h-10zM576 93h1v1h-1zM578 93h11v1h-11zM575 94h1v1h-1zM577 94h11v1h-11zM574 95h1v1h-1zM576 95h12v1h-12zM589 95h1v1h-1zM591 95h1v1h-1zM573 96h18v1h-18zM574 97h11v1h-11zM587 97h5v1h-5zM572 98h10v1h-10zM588 98h3v1h-3zM572 99h10v1h-10zM587 99h1v1h-1zM589 99h1v1h-1zM591 99h1v1h-1zM572 100h8v1h-8zM572 101h5v1h-5zM578 101h1v1h-1zM572 102h6v1h-6zM572 103h5v1h-5zM572 104h1v1h-1zM574 104h1v1h-1zM576 104h1v1h-1zM124 136h1v1h-1zM126 136h1v1h-1zM128 136h1v1h-1zM130 136h1v1h-1zM121 137h12v1h-12zM118 138h21v1h-21zM116 139h1v1h-1zM118 139h22v1h-22zM115 140h25v1h-25zM112 141h1v1h-1zM114 141h27v1h-27zM109 142h32v1h-32zM108 143h18v1h-18zM130 143h12v1h-12zM108 144h17v1h-17zM134 144h9v1h-9zM108 145h15v1h-15zM135 145h7v1h-7zM107 146h13v1h-13zM136 146h7v1h-7zM106 147h11v1h-11zM136 147h6v1h-6zM106 148h7v1h-7zM114 148h1v1h-1zM137 148h6v1h-6zM104 149h1v1h-1zM106 149h7v1h-7zM138 149h5v1h-5zM102 150h1v1h-1zM104 150h8v1h-8zM138 150h7v1h-7zM99 151h13v1h-13zM138 151h7v1h-7zM98 152h13v1h-13zM138 152h8v1h-8zM96 153h15v1h-15zM138 153h1v1h-1zM140 153h7v1h-7zM96 154h15v1h-15zM139 154h9v1h-9zM96 155h13v1h-13zM140 155h9v1h-9zM94 156h13v1h-13zM140 156h10v1h-10zM95 157h11v1h-11zM141 157h11v1h-11zM94 158h8v1h-8zM142 158h9v1h-9zM152 158h1v1h-1zM94 159h5v1h-5zM100 159h1v1h-1zM143 159h11v1h-11zM92 160h8v1h-8zM144 160h11v1h-11zM92 161h7v1h-7zM145 161h12v1h-12zM91 162h8v1h-8zM146 162h1v1h-1zM148 162h9v1h-9zM91 163h6v1h-6zM98 163h1v1h-1zM147 163h13v1h-13zM161 163h1v1h-1zM90 164h8v1h-8zM148 164h13v1h-13zM90 165h7v1h-7zM150 165h13v1h-13zM89 166h8v1h-8zM150 166h13v1h-13zM89 167h7v1h-7zM152 167h12v1h-12zM87 168h9v1h-9zM153 168h11v1h-11zM88 169h7v1h-7zM155 169h10v1h-10zM86 170h9v1h-9zM156 170h1v1h-1zM158 170h7v1h-7zM86 171h8v1h-8zM158 171h8v1h-8zM84 172h9v1h-9zM159 172h8v1h-8zM81 173h1v1h-1zM83 173h1v1h-1zM85 173h8v1h-8zM160 173h8v1h-8zM80 174h13v1h-13zM159 174h9v1h-9zM77 175h1v1h-1zM79 175h13v1h-13zM160 175h9v1h-9zM78 176h12v1h-12zM161 176h8v1h-8zM76 177h14v1h-14zM162 177h9v1h-9zM75 178h15v1h-15zM162 178h9v1h-9zM74 179h11v1h-11zM86 179h1v1h-1zM163 179h9v1h-9zM74 180h9v1h-9zM164 180h8v1h-8zM74 181h9v1h-9zM164 181h9v1h-9zM73 182h9v1h-9zM165 182h10v1h-10zM72 183h1v1h-1zM74 183h6v1h-6zM166 183h9v1h-9zM73 184h6v1h-6zM167 184h1v1h-1zM169 184h7v1h-7zM72 185h5v1h-5zM78 185h1v1h-1zM168 185h10v1h-10zM73 186h3v1h-3zM77 186h1v1h-1zM169 186h8v1h-8zM72 187h5v1h-5zM169 187h10v1h-10zM73 188h3v1h-3zM169 188h12v1h-12zM72 189h5v1h-5zM170 189h11v1h-11zM71 190h6v1h-6zM172 190h10v1h-10zM70 191h7v1h-7zM172 191h13v1h-13zM70 192h7v1h-7zM173 192h14v1h-14zM188 192h1v1h-1zM70 193h6v1h-6zM175 193h14v1h-14zM69 194h8v1h-8zM176 194h15v1h-15zM70 195h6v1h-6zM177 195h14v1h-14zM68 196h7v1h-7zM178 196h15v1h-15zM66 197h1v1h-1zM68 197h7v1h-7zM178 197h1v1h-1zM180 197h14v1h-14zM66 198h9v1h-9zM182 198h13v1h-13zM66 199h7v1h-7zM185 199h15v1h-15zM64 200h10v1h-10zM186 200h16v1h-16zM64 201h9v1h-9zM188 201h15v1h-15zM63 202h9v1h-9zM189 202h16v1h-16zM64 203h7v1h-7zM72 203h1v1h-1zM190 203h1v1h-1zM192 203h15v1h-15zM61 204h10v1h-10zM191 204h16v1h-16zM62 205h8v1h-8zM192 205h1v1h-1zM194 205h13v1h-13zM59 206h10v1h-10zM196 206h1v1h-1zM198 206h9v1h-9zM57 207h10v1h-10zM201 207h6v1h-6zM54 208h14v1h-14zM200 208h7v1h-7zM52 209h13v1h-13zM66 209h1v1h-1zM52 210h14v1h-14zM51 211h14v1h-14zM50 212h12v1h-12zM49 213h12v1h-12zM62 213h1v1h-1zM50 214h7v1h-7zM58 214h1v1h-1zM49 215h8v1h-8zM50 216h6v1h-6zM49 217h6v1h-6z"/>
</svg>
<div id="labels">
<div class="t " style="top:13px;color:#000;left:300.5px;width:70px;">2006/11/03</div>
<div class="t " style="top:471px;color:#000;left:286.5px;width:98px;">Universal Time</div>
<div class="t " style="top:455px;color:#000;left:44.5px;width:14px;">00</div>
<div class="t " style="top:455px;color:#000;left:115.6px;width:14px;">03</div>
<div class="t " style="top:455px;color:#000;left:186.8px;width:14px;">06</div>
<div class="t " style="top:455px;color:#000;left:257.9px;width:14px;">09</div>
<div class="t " style="top:455px;color:#000;left:329.0px;width:14px;">12</div>
<div class="t " style="top:455px;color:#000;left:400.1px;width:14px;">15</div>
<div class="t " style="top:455px;color:#000;left:471.2px;width:14px;">18</div>
<div class="t " style="top:455px;color:#000;left:542.4px;width:14px;">21</div>
<div class="t " style="top:455px;color:#000;left:613.5px;width:14px;">00</div>
<div class="t " style="top:444.0px;color:#000;left:30.5px;width:14px;">10</div>
<div class="t " style="top:375.0px;color:#000;left:30.5px;width:14px;">12</div>
<div class="t " style="top:306.0px;color:#000;left:30.5px;width:14px;">14</div>
<div class="t " style="top:237.0px;color:#000;left:30.5px;width:14px;">16</div>
<div class="t " style="top:168.0px;color:#000;left:30.5px;width:14px;">18</div>
<div class="t " style="top:99.0px;color:#000;left:30.5px;width:14px;">20</div>
<div class="t " style="top:30.0px;color:#000;left:30.5px;width:14px;">22</div>
<div class="t " style="top:40px;color:#ff0000;left:538.0px;width:28px;">top1</div>
<div class="t " style="top:51px;color:#00c000;left:538.0px;width:28px;">top2</div>
<div class="t " style="top:62px;color:#0080ff;left:524.0px;width:42px;">center</div>
<div class="t " style="top:73px;color:#c000ff;left:524.0px;width:42px;">mirror</div>
<div class="t " style="top:84px;color:#c0ff40;left:538.0px;width:28px;">dome</div>
<div class="t " style="top:95px;color:#c04000;left:545.0px;width:21px;">out</div>
<div class="t yl" style="left:9px;top:240px;">Temperature(degree)</div>
</div>
</div>
</body>
</html>
